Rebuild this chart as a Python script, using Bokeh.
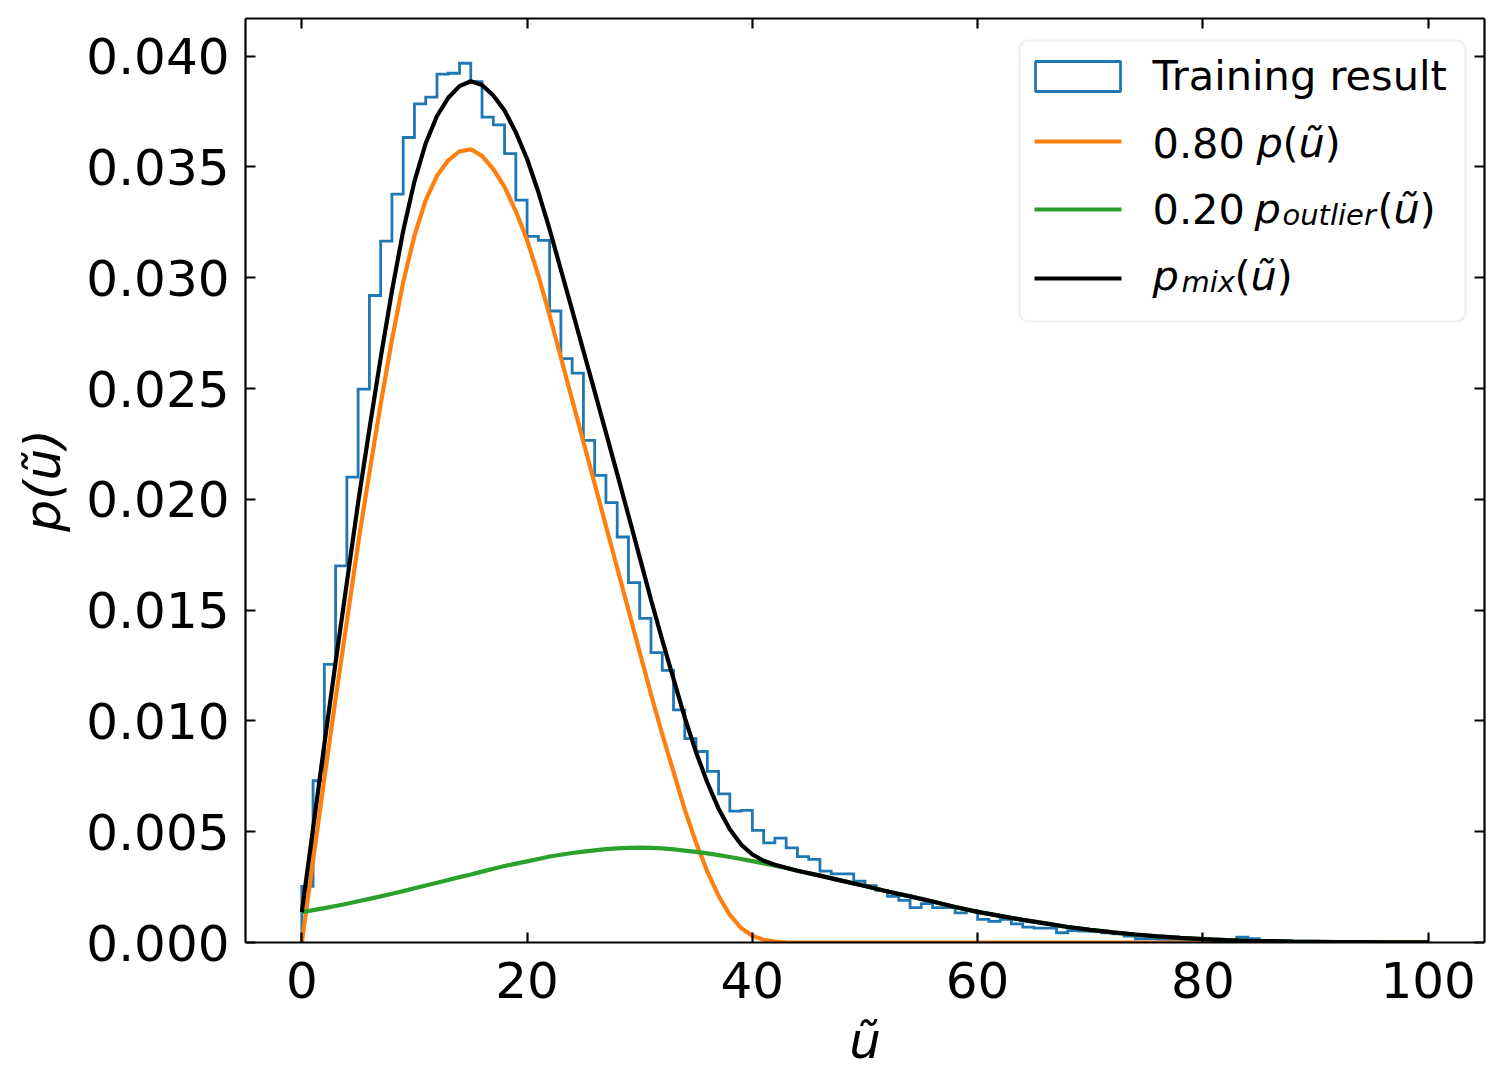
import numpy as np
from bokeh.plotting import figure
from bokeh.models import (Range1d, FixedTicker, PrintfTickFormatter, LinearAxis,
                          CustomJSTickFormatter, BoxAnnotation, Label)
from bokeh.embed import file_html
from bokeh.resources import INLINE

# ---------------- data (values in units of 1e-3) ----------------
SCALE = 1e-3
bin_left = list(range(0, 100))          # histogram bins of width 1
bin_width = 1
hist_density = [
    2.53, 7.30, 12.55, 17.00, 21.00, 24.97, 29.20, 31.65, 33.77, 36.33,
    37.85, 38.15, 39.19, 39.23, 39.68, 38.85, 37.25, 36.90, 35.60, 33.50,
    31.87, 31.69, 28.50, 26.35, 25.70, 22.66, 21.08, 19.85, 18.30, 16.24,
    14.63, 13.08, 12.28, 10.50, 9.20, 8.62, 7.72, 6.71, 5.93, 5.96,
    5.06, 4.50, 4.71, 4.27, 3.88, 3.75, 3.22, 3.10, 3.10, 2.77,
    2.57, 2.35, 2.08, 1.90, 1.57, 1.75, 1.57, 1.57, 1.34, 1.44,
    1.04, 0.95, 1.04, 0.84, 0.69, 0.65, 0.65, 0.44, 0.54, 0.51,
    0.50, 0.44, 0.39, 0.29, 0.17, 0.17, 0.14, 0.14, 0.10, 0.09,
    0.07, 0.06, 0.05, 0.24, 0.17, 0.06, 0.10, 0.05, 0.03, 0.02,
    0.02, 0.01, 0.01, 0.01, 0.00, 0.01, 0.00, 0.00, 0.00, 0.00,
]

curve_x = list(range(0, 45)) + list(range(46, 101, 2))
p_main_080 = [
    0.00, 3.70, 7.40, 11.00, 14.50, 18.00, 21.20, 24.30, 27.20, 29.80,
    31.90, 33.50, 34.60, 35.30, 35.70, 35.80, 35.50, 34.90, 34.10, 33.00,
    31.70, 30.10, 28.30, 26.40, 24.50, 22.60, 20.70, 18.80, 16.90, 15.00,
    13.10, 11.20, 9.40, 7.70, 6.00, 4.50, 3.20, 2.10, 1.25, 0.65,
    0.30, 0.12, 0.04, 0.01, 0.00,
    0.00, 0.00, 0.00, 0.00, 0.00, 0.00, 0.00, 0.00, 0.00, 0.00,
    0.00, 0.00, 0.00, 0.00, 0.00, 0.00, 0.00, 0.00, 0.00, 0.00,
    0.00, 0.00, 0.00, 0.00, 0.00, 0.00, 0.00, 0.00,
]
p_outlier_020 = [
    1.37, 1.46, 1.55, 1.65, 1.75, 1.86, 1.97, 2.08, 2.20, 2.32,
    2.45, 2.57, 2.70, 2.82, 2.95, 3.07, 3.20, 3.33, 3.45, 3.56,
    3.66, 3.77, 3.88, 3.96, 4.04, 4.10, 4.16, 4.21, 4.25, 4.27,
    4.28, 4.27, 4.25, 4.20, 4.15, 4.09, 4.02, 3.94, 3.86, 3.77,
    3.67, 3.57, 3.47, 3.36, 3.24,
    3.02, 2.78, 2.55, 2.30, 2.08, 1.85, 1.60, 1.38, 1.20, 1.02,
    0.86, 0.70, 0.57, 0.46, 0.36, 0.28, 0.21, 0.15, 0.11, 0.08,
    0.06, 0.04, 0.03, 0.02, 0.015, 0.01, 0.007, 0.005,
]
p_mix = [
    1.37, 5.16, 8.95, 12.65, 16.25, 19.86, 23.17, 26.38, 29.40, 32.12,
    34.35, 36.07, 37.30, 38.12, 38.65, 38.87, 38.70, 38.23, 37.55, 36.56,
    35.36, 33.87, 32.18, 30.36, 28.54, 26.70, 24.86, 23.01, 21.15, 19.27,
    17.38, 15.47, 13.65, 11.90, 10.15, 8.59, 7.22, 6.04, 5.11, 4.42,
    3.97, 3.69, 3.51, 3.37, 3.24,
    3.02, 2.78, 2.55, 2.30, 2.08, 1.85, 1.60, 1.38, 1.20, 1.02,
    0.86, 0.70, 0.57, 0.46, 0.36, 0.28, 0.21, 0.15, 0.11, 0.08,
    0.06, 0.04, 0.03, 0.02, 0.015, 0.01, 0.007, 0.005,
]
x_ticks = [0, 20, 40, 60, 80, 100]
y_ticks = [0.000, 0.005, 0.010, 0.015, 0.020, 0.025, 0.030, 0.035, 0.040]
x_label = "ũ"
y_label = "p(ũ)"

# ---------------- style / layout ----------------
BLUE, ORANGE, GREEN, BLACK = "#1f77b4", "#ff7f0e", "#2ca02c", "#000000"
FONT = "DejaVu Sans"
TICK_FS = "50px"
LEG_FS = "41.5px"
SUB_FS = "29px"

FL, FT, FW, FH = 245, 18, 1239, 924
X0, X1 = -5, 105
Y0, Y1 = 0.0, 0.0417
TEXT_LIFT = 15   # legend text baseline correction (px)


def dx(px):
    return X0 + (px - FL) / FW * (X1 - X0)


def dy(py):
    return Y0 + (FT + FH - py) / FH * (Y1 - Y0)


p = figure(frame_width=FW, frame_height=FH,
           x_range=Range1d(X0, X1), y_range=Range1d(Y0, Y1),
           output_backend="svg", toolbar_location=None,
           min_border_left=FL, min_border_top=FT,
           min_border_right=10, min_border_bottom=110)
p.background_fill_color = "white"
p.border_fill_color = "white"
p.outline_line_color = None
p.xgrid.visible = False
p.ygrid.visible = False

# histogram outline (step)
edges = np.array(bin_left + [bin_left[-1] + bin_width], dtype=float)
h = np.array(hist_density) * SCALE
hx = np.repeat(edges, 2)
hy = np.concatenate([[0.0], np.repeat(h, 2), [0.0]])
p.line(hx, hy, line_color=BLUE, line_width=2.8, line_join="miter")

cx = np.array(curve_x, dtype=float)
p.line(cx, np.array(p_main_080) * SCALE, line_color=ORANGE, line_width=4.2)
p.line(cx, np.array(p_outlier_020) * SCALE, line_color=GREEN, line_width=4.2)
p.line(cx, np.array(p_mix) * SCALE, line_color=BLACK, line_width=4.2)


def style_axis(ax):
    ax.axis_line_color = "black"
    ax.axis_line_width = 2.2
    ax.major_tick_line_color = "black"
    ax.major_tick_line_width = 2.2
    ax.major_tick_in = 10
    ax.major_tick_out = 0
    ax.minor_tick_line_color = None
    ax.major_label_text_font = FONT
    ax.major_label_text_font_size = TICK_FS
    ax.major_label_text_color = "black"
    ax.axis_label_text_font = FONT
    ax.axis_label_text_font_size = TICK_FS
    ax.axis_label_text_font_style = "italic"
    ax.axis_label_text_color = "black"


xa = p.xaxis[0]
ya = p.yaxis[0]
style_axis(xa)
style_axis(ya)
xa.ticker = FixedTicker(ticks=x_ticks)
ya.ticker = FixedTicker(ticks=y_ticks)
xa.formatter = PrintfTickFormatter(format="%d")
ya.formatter = PrintfTickFormatter(format="%.3f")
xa.major_label_standoff = 19
ya.major_label_standoff = 16
xa.axis_label = x_label
ya.axis_label = y_label
xa.axis_label_standoff = 11
ya.axis_label_standoff = 11

blank = CustomJSTickFormatter(code="return ''")
top = LinearAxis(ticker=FixedTicker(ticks=x_ticks), formatter=blank)
right = LinearAxis(ticker=FixedTicker(ticks=y_ticks), formatter=blank)
for ax in (top, right):
    style_axis(ax)
    ax.major_label_standoff = 0
    ax.major_label_text_font_size = "1px"
p.add_layout(top, "above")
p.add_layout(right, "right")

# ---------------- legend (drawn by hand) ----------------
p.add_layout(BoxAnnotation(left=dx(1019), right=dx(1465), top=dy(40), bottom=dy(321),
                           fill_color="white", fill_alpha=0.8,
                           line_color="#cccccc", line_width=2.2, border_radius=9,
                           level="annotation"))
p.quad(left=dx(1035), right=dx(1120), top=dy(61), bottom=dy(91),
       fill_color=None, line_color=BLUE, line_width=2.8, level="overlay")
for col, py in ((ORANGE, 141), (GREEN, 209), (BLACK, 278)):
    p.line([dx(1034), dx(1121)], [dy(py), dy(py)], line_color=col, line_width=4.2,
           level="overlay")

legend_pieces = [
    # text, x px, baseline px, size, italic
    ("Training result", 1152, 90, LEG_FS, False),
    ("0.80", 1152, 157, LEG_FS, False),
    ("p", 1256, 157, LEG_FS, True),
    ("(", 1282, 157, LEG_FS, False),
    ("ũ", 1298, 157, LEG_FS, True),
    (")", 1324, 157, LEG_FS, False),
    ("0.20", 1152, 223, LEG_FS, False),
    ("p", 1254, 223, LEG_FS, True),
    ("outlier", 1282, 229, SUB_FS, True),
    ("(", 1377, 223, LEG_FS, False),
    ("ũ", 1393, 223, LEG_FS, True),
    (")", 1419, 223, LEG_FS, False),
    ("p", 1152, 290, LEG_FS, True),
    ("mix", 1181, 296, SUB_FS, True),
    ("(", 1234, 290, LEG_FS, False),
    ("ũ", 1250, 290, LEG_FS, True),
    (")", 1276, 290, LEG_FS, False),
]
for txt, px, py, fs, it in legend_pieces:
    p.add_layout(Label(x=dx(px), y=dy(py - TEXT_LIFT), text=txt, text_font=FONT,
                       text_font_size=fs,
                       text_font_style="italic" if it else "normal",
                       text_color="black", text_align="left",
                       text_baseline="alphabetic", level="overlay"))

with open("out.html", "w") as f:
    f.write(file_html(p, INLINE))
